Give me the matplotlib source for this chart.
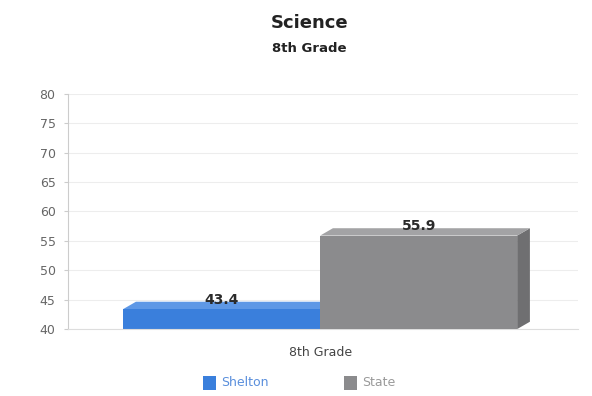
import matplotlib.pyplot as plt
from matplotlib.patches import Polygon, Rectangle
import numpy as np

categories = ['8th Grade']
series = ['Shelton', 'State']
values = [43.4, 55.9]
yticks = [40, 45, 50, 55, 60, 65, 70, 75, 80]

front = ['#3a7fdc', '#8b8b8d']
top = ['#5e98e6', '#a3a3a5']
side = ['#2d66b4', '#6f6f71']

BAR_W = 0.386
DX, DY = 0.025, 1.25  # depth offset of the 3d faces
BASE = 40

fig = plt.figure(figsize=(5.92, 3.96), dpi=100)
ax = fig.add_axes([0.115, 0.169, 0.862, 0.594])

for k in range(len(series)):
    x0 = -BAR_W + k * BAR_W
    x1 = x0 + BAR_W
    v = values[k]
    ax.add_patch(Polygon([(x1, BASE), (x1 + DX, BASE + DY), (x1 + DX, v + DY), (x1, v)],
                         closed=True, fc=side[k], ec='none', zorder=2 + k))
    ax.add_patch(Polygon([(x0, v), (x0 + DX, v + DY), (x1 + DX, v + DY), (x1, v)],
                         closed=True, fc=top[k], ec='none', zorder=2 + k))
    ax.add_patch(Rectangle((x0, BASE), BAR_W, v - BASE, fc=front[k], ec='none', zorder=2 + k))
    ax.text((x0 + x1) / 2, v + 0.4, f'{v:.1f}', ha='center', va='bottom',
            fontsize=10, fontweight='bold', color='#2a2a2a', zorder=5)

ax.set_xlim(-0.494, 0.506)
ax.set_ylim(40, 80)
ax.set_yticks(yticks)
ax.set_xticks([0])
ax.set_xticklabels(categories, fontsize=9, color='#444444')
ax.tick_params(axis='x', length=0, pad=12)
ax.tick_params(axis='y', labelsize=9, labelcolor='#666666', color='#cccccc', length=3, pad=6)
ax.yaxis.grid(True, color='#ededed', linewidth=0.8)
ax.set_axisbelow(True)
for s in ['top', 'right']:
    ax.spines[s].set_visible(False)
ax.spines['left'].set_color('#cccccc')
ax.spines['bottom'].set_color('#dddddd')

fig.text(0.523, 0.943, 'Science', ha='center', va='center', fontsize=13, fontweight='bold', color='#222222')
fig.text(0.523, 0.878, '8th Grade', ha='center', va='center', fontsize=9.5, fontweight='bold', color='#222222')

# legend
leg_x = [0.343, 0.581]
leg_txt = ['#5a8fdc', '#9a9a9a']
for k in range(len(series)):
    fig.patches.append(Rectangle((leg_x[k], 0.016), 0.022, 0.034, fc=front[k], ec='none',
                                 transform=fig.transFigure, figure=fig))
    fig.text(leg_x[k] + 0.031, 0.033, series[k], ha='left', va='center', fontsize=9, color=leg_txt[k])

fig.savefig('out.png', dpi=100, facecolor='white')
